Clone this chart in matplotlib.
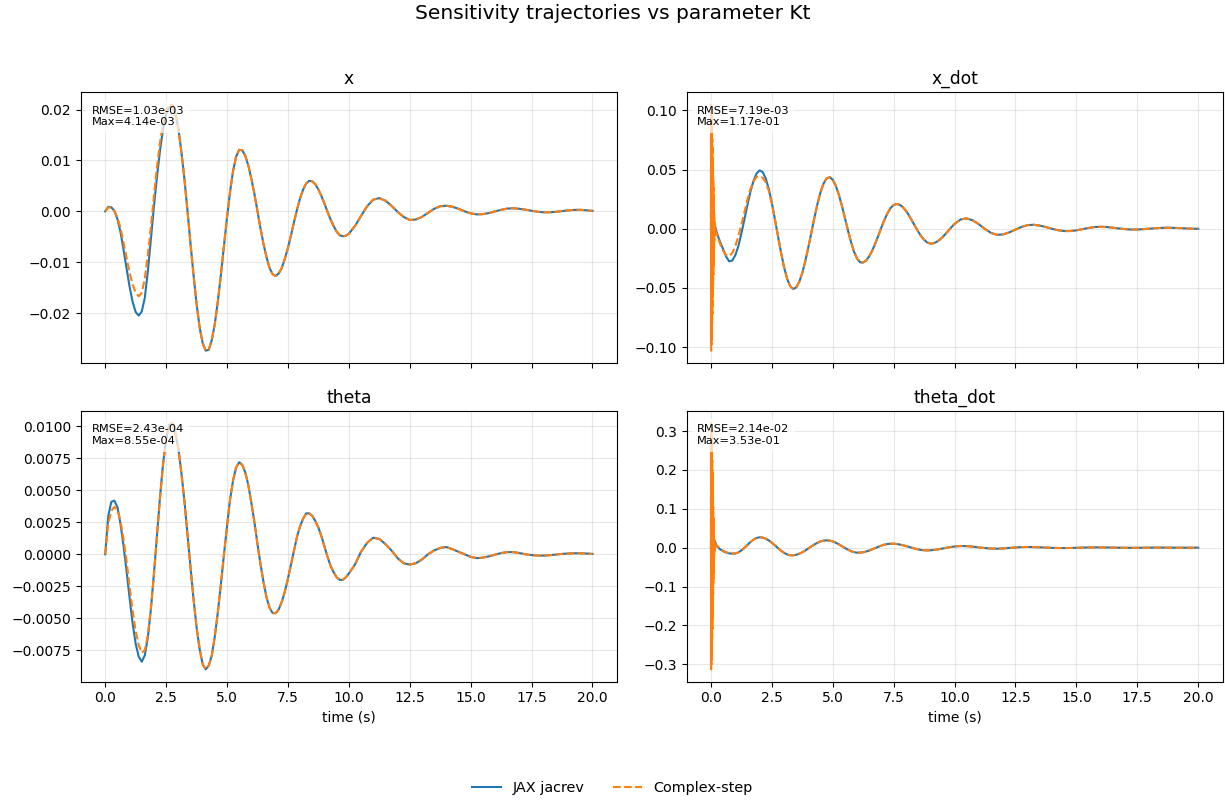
import numpy as np
import matplotlib
matplotlib.use("Agg")
import matplotlib.pyplot as plt

# sample times (s): fine steps over the first 10 s, coarser afterwards
t = np.concatenate([[0.0], np.arange(1, 81) * 0.125, 10.0 + np.arange(1, 41) * 0.25])

# fast start-up transient of the complex-step derivatives
spike_t = np.concatenate([np.arange(31) * 0.005, [0.17, 0.20]])

states = ['x', 'x_dot', 'theta', 'theta_dot']
rmse = [1.03e-03, 7.19e-03, 2.43e-04, 2.14e-02]
max_err = [4.14e-03, 1.17e-01, 8.55e-04, 3.53e-01]

# JAX jacrev sensitivities
x_jax = [0.0,
         0.0009, 0.0008, 0.0001, -0.0015, -0.0040, -0.0075, -0.0112, -0.0148,
         -0.0178, -0.0198, -0.0205, -0.0197, -0.0170, -0.0118, -0.0055, 0.0010,
         0.0068, 0.0120, 0.0162, 0.0192, 0.0205, 0.0206, 0.0193, 0.0163,
         0.0118, 0.0064, 0.0002, -0.0063, -0.0125, -0.0182, -0.0228, -0.0259,
         -0.0274, -0.0272, -0.0253, -0.0221, -0.0176, -0.0124, -0.0067, -0.0012,
         0.0039, 0.0080, 0.0108, 0.0121, 0.0120, 0.0109, 0.0090, 0.0064,
         0.0034, 0.0000, -0.0034, -0.0065, -0.0091, -0.0112, -0.0124, -0.0127,
         -0.0122, -0.0111, -0.0093, -0.0072, -0.0047, -0.0021, 0.0004, 0.0026,
         0.0043, 0.0055, 0.0060, 0.0059, 0.0053, 0.0043, 0.0030, 0.0015,
         -0.0001, -0.0016, -0.0029, -0.0040, -0.0047, -0.0049, -0.0048, -0.0044,
         -0.0029, -0.0009, 0.0010, 0.0023,
         0.0026, 0.0021, 0.0011, -0.0001,
         -0.0011, -0.0017, -0.0016, -0.0011,
         -0.0003, 0.0005, 0.0010, 0.0011,
         0.0009, 0.0005, 0.0000, -0.0004,
         -0.0006, -0.00055, -0.00034, 0.0,
         0.0003, 0.00054, 0.0006, 0.0005,
         0.00033, 0.00011, -0.00008, -0.00019,
         -0.00018, -0.00009, 0.00005, 0.00019,
         0.00028, 0.0003, 0.0002, 0.0001]

xdot_jax = [0.0,
            0.006, -0.0040, -0.0110, -0.0170, -0.0235, -0.0275, -0.0269, -0.0224,
            -0.0148, -0.0041, 0.0079, 0.0201, 0.0316, 0.0406, 0.0468, 0.0494,
            0.0479, 0.0426, 0.0337, 0.0220, 0.0084, -0.0059, -0.0197, -0.0321,
            -0.0420, -0.0483, -0.0509, -0.0496, -0.0449, -0.0374, -0.0273, -0.0156,
            -0.0031, 0.0095, 0.0212, 0.0309, 0.0383, 0.0426, 0.0436, 0.0415,
            0.0365, 0.0289, 0.0196, 0.0092, -0.0013, -0.0111, -0.0194, -0.0252,
            -0.0283, -0.0285, -0.0267, -0.0232, -0.0183, -0.0122, -0.0055, 0.0013,
            0.0077, 0.0132, 0.0176, 0.0201, 0.0210, 0.0203, 0.0184, 0.0153,
            0.0115, 0.0070, 0.0024, -0.0021, -0.0061, -0.0093, -0.0115, -0.0125,
            -0.0123, -0.0112, -0.0095, -0.0072, -0.0045, -0.0015, 0.0014, 0.0041,
            0.0079, 0.0088, 0.0071, 0.0038,
            -0.0002, -0.0035, -0.0051, -0.0047,
            -0.0030, -0.0007, 0.0016, 0.0031,
            0.0034, 0.0027, 0.0015, 0.0000,
            -0.0012, -0.0019, -0.0019, -0.0013,
            -0.0003, 0.0007, 0.0015, 0.0017,
            0.0015, 0.0009, 0.0003, -0.0003,
            -0.0006, -0.0006, -0.0003, 0.0001,
            0.0005, 0.0008, 0.0009, 0.0008,
            0.0006, 0.0003, 0.0001, 0.0]

theta_jax = [0.0,
             0.0030, 0.0041, 0.0042, 0.0037, 0.0024, 0.0007, -0.0013, -0.0034,
             -0.0054, -0.0070, -0.0080, -0.0084, -0.0079, -0.0065, -0.0043, -0.0015,
             0.0015, 0.0045, 0.0071, 0.0090, 0.0101, 0.01025, 0.0095, 0.0083,
             0.0064, 0.0042, 0.0016, -0.0010, -0.0035, -0.0057, -0.0074, -0.0086,
             -0.0090, -0.0087, -0.0079, -0.0064, -0.0045, -0.0023, 0.0000, 0.0022,
             0.0043, 0.0058, 0.0068, 0.0072, 0.0070, 0.0064, 0.0054, 0.0040,
             0.0025, 0.0008, -0.0008, -0.0022, -0.0034, -0.0042, -0.0046, -0.0046,
             -0.0043, -0.0037, -0.0029, -0.0019, -0.0008, 0.0003, 0.0014, 0.0022,
             0.0028, 0.0032, 0.0032, 0.0030, 0.0026, 0.0021, 0.0014, 0.0006,
             -0.0002, -0.0009, -0.0014, -0.0018, -0.0020, -0.0020, -0.0018, -0.0015,
             -0.0008, 0.0002, 0.0009, 0.0013,
             0.0012, 0.0008, 0.0003, -0.0003,
             -0.0007, -0.0008, -0.0007, -0.0004,
             0.0000, 0.0003, 0.0005, 0.00057,
             0.0004, 0.0002, 0.0000, -0.0002,
             -0.0003, -0.00026, -0.00016, -0.00003,
             0.0001, 0.00017, 0.00017, 0.0001,
             0.0, -0.00006, -0.0001, -0.0001,
             -0.00007, -0.00002, 0.00003, 0.00006,
             0.00008, 0.00008, 0.00006, 0.00003]

thetadot_jax = [0.0,
                0.022, 0.003, -0.004, -0.009, -0.0125, -0.0146, -0.0154, -0.0151,
                -0.0123, -0.0071, -0.0004, 0.0071, 0.0146, 0.0206, 0.0249, 0.0267,
                0.0260, 0.0232, 0.0187, 0.0128, 0.0060, -0.0010, -0.0076, -0.0132,
                -0.0173, -0.0195, -0.0197, -0.0183, -0.0156, -0.0118, -0.0072, -0.0019,
                0.0034, 0.0083, 0.0126, 0.0161, 0.0182, 0.0189, 0.0182, 0.0161,
                0.0128, 0.0086, 0.0040, -0.0008, -0.0052, -0.0089, -0.0115, -0.0128,
                -0.0127, -0.0117, -0.0098, -0.0073, -0.0042, -0.0009, 0.0023, 0.0053,
                0.0078, 0.0094, 0.0102, 0.0102, 0.0095, 0.0082, 0.0064, 0.0044,
                0.0021, -0.0002, -0.0024, -0.0043, -0.0058, -0.0066, -0.0069, -0.0067,
                -0.0060, -0.0051, -0.0038, -0.0023, -0.0008, 0.0007, 0.0020, 0.0031,
                0.0043, 0.0039, 0.0026, 0.0007,
                -0.0011, -0.0023, -0.0026, -0.0019,
                -0.0007, 0.0005, 0.0015, 0.0018,
                0.0015, 0.0009, 0.0002, -0.0005,
                -0.0009, -0.0010, -0.0008, -0.0003,
                0.0002, 0.0006, 0.0008, 0.0007,
                0.0005, 0.0002, -0.0001, -0.0003,
                -0.0004, -0.0003, -0.0001, 0.0001,
                0.0002, 0.0002, 0.0001, 0.0,
                -0.0001, -0.0001, 0.0, 0.0]

# complex-step values where they differ from jacrev (early part only)
x_cs_head = [0.0,
             0.0008, 0.0007, 0.0001, -0.0012, -0.0032, -0.0061, -0.0091, -0.0120,
             -0.0144, -0.0160, -0.0167, -0.0160, -0.0132, -0.0085, -0.0030, 0.0030,
             0.0087, 0.0136, 0.0174, 0.0199, 0.0210, 0.0209, 0.0194, 0.0163]
theta_cs_head = [0.0,
                 0.0024, 0.0034, 0.0037, 0.0035, 0.0026, 0.0012, -0.0005, -0.0025,
                 -0.0044, -0.0060, -0.0071, -0.0077, -0.0075, -0.0063, -0.0042, -0.0016,
                 0.0014, 0.0044, 0.0070, 0.0090, 0.0101, 0.01025]
xdot_cs_spike = [0.0, 0.105, -0.103, 0.100, -0.098, 0.095, -0.093, 0.090, -0.087,
                 0.083, -0.080, 0.076, -0.072, 0.068, -0.064, 0.060, -0.056,
                 0.051, -0.047, 0.043, -0.039, 0.035, -0.031, 0.027, -0.023,
                 0.020, -0.016, 0.013, -0.010, 0.007, -0.004, 0.002, -0.003]
xdot_cs_head = [-0.0050, -0.0125, -0.0185, -0.0222, -0.0231, -0.0206, -0.0149,
                -0.0064, 0.0034, 0.0142, 0.0246, 0.0338, 0.0402, 0.0440,
                0.0444, 0.0430, 0.0395, 0.0320, 0.0212, 0.0082]
thetadot_cs_spike = [0.0, 0.32, -0.313, 0.305, -0.30, 0.29, -0.285, 0.275, -0.265,
                     0.25, -0.24, 0.225, -0.21, 0.195, -0.18, 0.165, -0.15,
                     0.135, -0.12, 0.105, -0.09, 0.078, -0.066, 0.055, -0.045,
                     0.036, -0.028, 0.021, -0.015, 0.012, -0.006, 0.012, 0.007]
thetadot_cs_head = [0.005, -0.002, -0.008, -0.0115, -0.0138, -0.0148, -0.0147,
                    -0.0122, -0.0071]


def join_plain(head, ref):
    return t, np.array(head + ref[len(head):])


def join_spike(spike, head, ref):
    # spike covers t < 0.25, the head then picks up at t[2] = 0.25
    tt = np.concatenate([spike_t, t[2:]])
    vv = spike + head + ref[2 + len(head):]
    return tt, np.array(vv)


jax_curves = [x_jax, xdot_jax, theta_jax, thetadot_jax]
cs_curves = [join_plain(x_cs_head, x_jax),
             join_spike(xdot_cs_spike, xdot_cs_head, xdot_jax),
             join_plain(theta_cs_head, theta_jax),
             join_spike(thetadot_cs_spike, thetadot_cs_head, thetadot_jax)]

fig, axes = plt.subplots(2, 2, figsize=(12.25, 8.02), dpi=100, sharex=True)
fig.subplots_adjust(left=0.066, right=0.998, top=0.885, bottom=0.150,
                    wspace=0.13, hspace=0.177)

for i, ax in enumerate(axes.flat):
    l1, = ax.plot(t, jax_curves[i], color='tab:blue', lw=1.5, label='JAX jacrev')
    tc, vc = cs_curves[i]
    l2, = ax.plot(tc, vc, color='tab:orange', lw=1.5, ls='--', label='Complex-step')
    ax.set_title(states[i], fontsize=12.3)
    ax.grid(True, alpha=0.3)
    ax.text(0.02, 0.95, 'RMSE=%.2e\nMax=%.2e' % (rmse[i], max_err[i]),
            transform=ax.transAxes, va='top', fontsize=8.2,
            bbox=dict(facecolor='white', alpha=0.7, edgecolor='none'))
    if i >= 2:
        ax.set_xlabel('time (s)')

fig.suptitle('Sensitivity trajectories vs parameter Kt', fontsize=14.5, y=0.995)
fig.legend([l1, l2], ['JAX jacrev', 'Complex-step'], loc='center', ncol=2,
           frameon=False, fontsize=10.4, bbox_to_anchor=(0.5, 0.0175))
fig.savefig('out.png', dpi=100)
